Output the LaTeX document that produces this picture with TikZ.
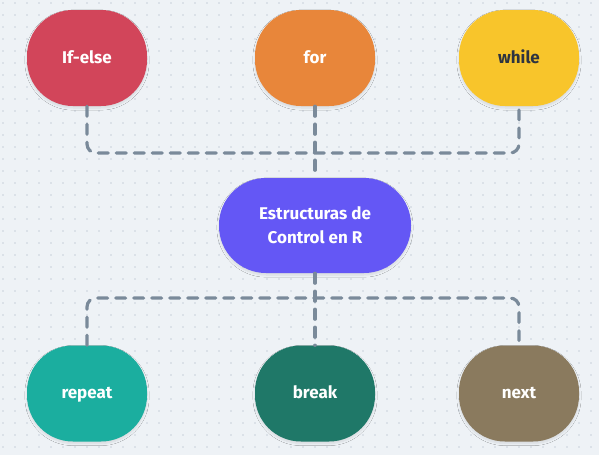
\documentclass[tikz,border=0pt]{standalone}
\usepackage{fontspec}
\setmainfont{Fira Sans}
\usetikzlibrary{shadows.blur}
\definecolor{bg}{HTML}{EEF2F6}
\definecolor{dotc}{HTML}{C9D0DA}
\definecolor{conn}{HTML}{7A8A9A}
\definecolor{cIf}{HTML}{D2455A}
\definecolor{cFor}{HTML}{E8863A}
\definecolor{cWhile}{HTML}{F8C52B}
\definecolor{cCenter}{HTML}{6457F5}
\definecolor{cRepeat}{HTML}{1BAE9F}
\definecolor{cBreak}{HTML}{1F7868}
\definecolor{cNext}{HTML}{8A7A5E}
\definecolor{darktext}{HTML}{2E3440}
\tikzset{
  base/.style={inner sep=0pt, text=white, font=\fontsize{17}{24}\selectfont\bfseries,
    align=center, blur shadow={shadow xshift=0pt, shadow yshift=-2pt, shadow blur steps=6, shadow opacity=10}},
  blob/.style={base, rounded corners=46pt, minimum width=120pt, minimum height=96pt,
    text height=13pt, text depth=2.4pt},
  pill/.style={base, rounded corners=47pt, minimum width=192pt, minimum height=95pt},
  connector/.style={draw=conn, line width=3.2pt, dash pattern=on 10pt off 8pt, line cap=round, rounded corners=9pt}
}
\begin{document}
\begin{tikzpicture}[x=1pt,y=-1pt]
\fill[bg] (0,0) rectangle (599,455);
\useasboundingbox (0,0) rectangle (599,455);
\foreach \i in {0,...,49}{
  \foreach \j in {0,...,37}{
    \fill[dotc] (3+12*\i,3+12*\j) circle (0.9pt);
  }
}
\node[blob, fill=cIf] (ifelse) at (87,58) {If-else};
\node[blob, fill=cFor] (for) at (315,58) {for};
\node[blob, fill=cWhile, text=darktext] (while) at (519,58) {while};
\node[pill, fill=cCenter] (center) at (315,225.5) {Estructuras de\\Control en R};
\node[blob, fill=cRepeat] (repeat) at (87,393.5) {repeat};
\node[blob, fill=cBreak] (break) at (315,393.5) {break};
\node[blob, fill=cNext] (next) at (519,393.5) {next};
\coordinate (jtop) at (315,153);
\coordinate (jbot) at (315,298);
\draw[connector] (ifelse.south) |- (jtop) -| (while.south);
\draw[connector] (for.south) -- (center.north);
\draw[connector] (center.south) -- (break.north);
\draw[connector] (repeat.north) |- (jbot) -| (next.north);
\end{tikzpicture}
\end{document}
